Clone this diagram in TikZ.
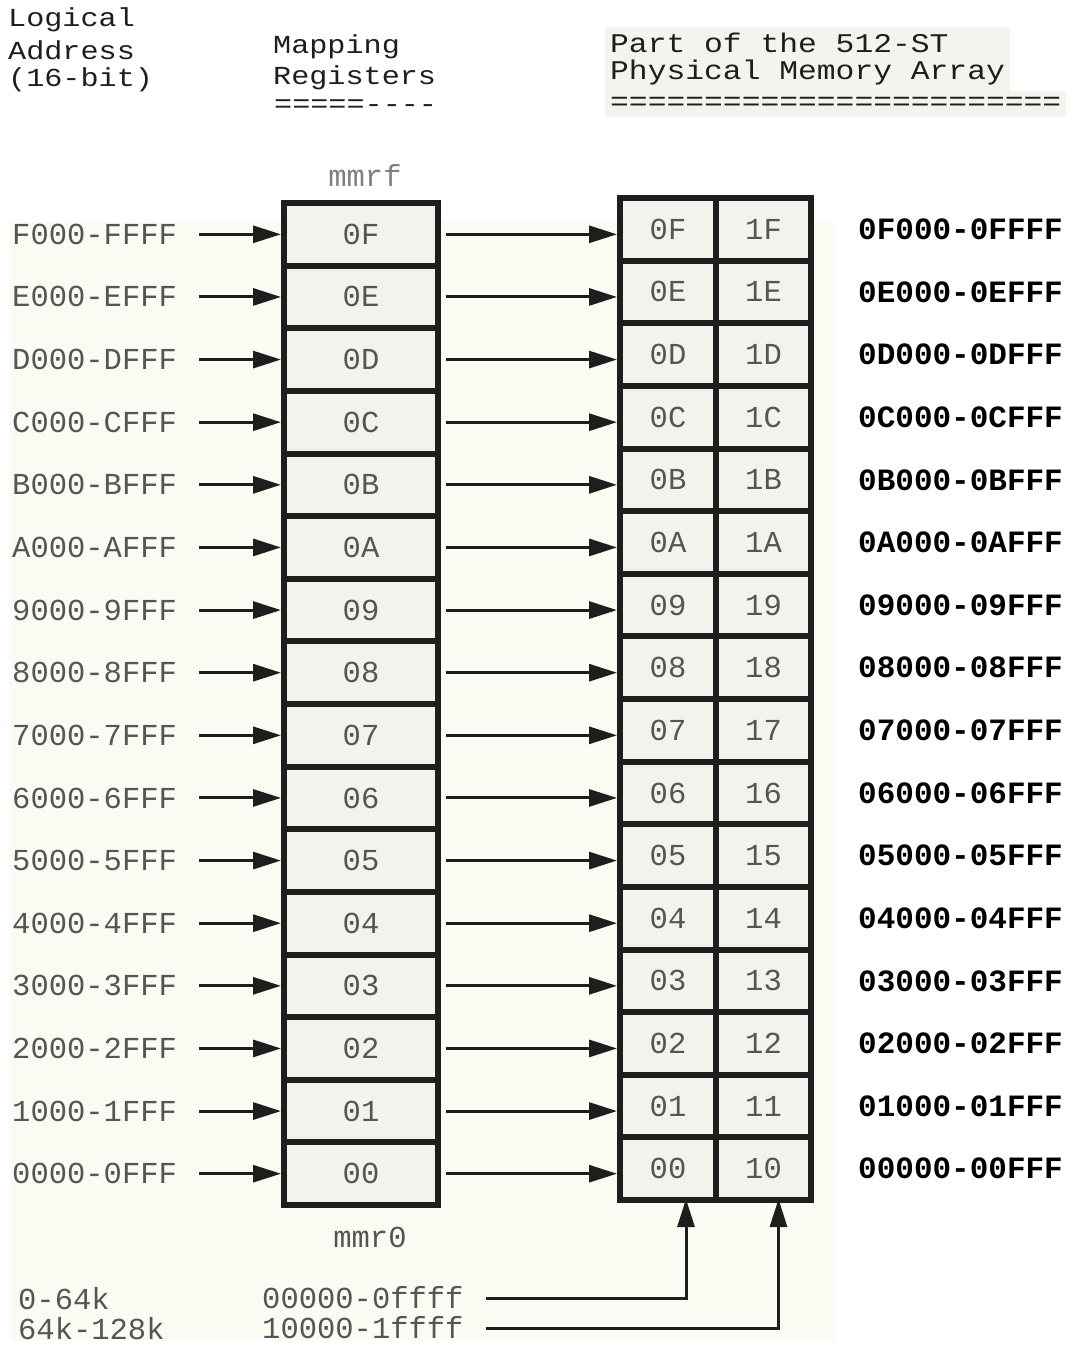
\documentclass[tikz,border=0pt]{standalone}
\usepackage{fontspec}
\newfontfamily\tw{Liberation Mono}
\newfontfamily\twh{Liberation Mono}[FakeStretch=1.16]
\usetikzlibrary{arrows.meta,calc}
\definecolor{cream}{RGB}{252,251,243}
\definecolor{cellfill}{RGB}{243,243,237}
\definecolor{hdrfill}{RGB}{244,244,238}
\definecolor{inkgrey}{RGB}{85,85,85}
\definecolor{ink}{RGB}{30,30,30}
\begin{document}
\begin{tikzpicture}[x=1pt,y=-1pt,
  txt/.style={font=\tw\fontsize{30.5}{30.5}\selectfont, inner sep=0pt, anchor=west},
  hdr/.style={font=\twh\fontsize{26}{26}\selectfont, inner sep=0pt, anchor=west, text=ink},
  hdrr/.style={font=\twh\fontsize{27}{27}\selectfont, inner sep=0pt, anchor=west, text=ink},
  lab/.style={txt, text=inkgrey},
  rlab/.style={font=\tw\bfseries\fontsize{31}{31}\selectfont, inner sep=0pt, anchor=west, text=black},
  regcell/.style={draw=ink, line width=6pt, fill=cellfill, minimum width=154pt, minimum height=62.625pt, inner sep=0pt, text=inkgrey, font=\tw\fontsize{30.5}{30.5}\selectfont},
  memcell/.style={draw=ink, line width=6pt, fill=cellfill, minimum height=62.625pt, inner sep=0pt, text=inkgrey, font=\tw\fontsize{30.5}{30.5}\selectfont},
  arr/.style={draw=ink, line width=3pt, -{Triangle[length=28pt,width=17pt]}}
]
\useasboundingbox (0,0) rectangle (1074,1347);
\fill[white] (0,0) rectangle (1074,1347);
\fill[cream] (10,222) rectangle (835,1340);
\fill[hdrfill] (605,27) rectangle (1010,93);
\fill[hdrfill] (605,91) rectangle (1066,117);

% headers
\node[hdr] (h1) at (8,20) {Logical};
\node[hdr] (h2) at (8,50) {Address};
\node[hdr] (h3) at (8,80) {(16-bit)};
\node[hdr] (h4) at (273,47) {Mapping};
\node[hdr] (h5) at (273,78) {Registers};
\node[hdr] (h6) at (274,106) {=====----};
\node[hdrr] (h7) at (610,43) {Part of the 512-ST};
\node[hdrr] (h8) at (610,73) {Physical Memory Array};
\node[hdrr] (h9) at (610,104) {========================};

\node[lab, anchor=center, text=gray] (mmrf) at (365,175) {mmrf};
\node[lab, anchor=center] (mmr0) at (370,1237) {mmr0};

\foreach \d [count=\i from 0] in {F,E,D,C,B,A,9,8,7,6,5,4,3,2,1,0} {
  \pgfmathsetmacro{\yr}{203+62.625*(\i+0.5)}
  \pgfmathsetmacro{\ya}{198+62.625*(\i+0.5)}
  \node[regcell] (r\d) at (361,\yr) {0\d};
  \node[memcell, minimum width=96pt] (a0\d) at (668,\ya) {0\d};
  \node[memcell, minimum width=95pt] (a1\d) at (763.5,\ya) {1\d};
  \node[lab] (l\d) at (12,\yr) {\d{}000-\d{}FFF};
  \node[rlab] (p\d) at (858,\ya) {0\d{}000-0\d{}FFF};
}
\foreach \d in {F,E,D,C,B,A,9,8,7,6,5,4,3,2,1,0} {
  \draw[arr, shorten <=22pt] (l\d.east) -- (r\d.west);
  \draw[arr, shorten <=5pt] (r\d.east) -- (r\d.east -| a0\d.west);
}

% bank select
\node[lab] (s0) at (18,1299) {0-64k};
\node[lab] (s1) at (18,1329) {64k-128k};
\node[lab] (b0) at (262,1298) {00000-0ffff};
\node[lab] (b1) at (262,1328) {10000-1ffff};
\draw[arr, shorten <=22pt, shorten >=-4pt] (b0.east) -| ([xshift=18pt]a00.south);
\draw[arr, shorten <=22pt, shorten >=-4pt] (b1.east) -| ([xshift=15pt]a10.south);
\end{tikzpicture}
\end{document}
